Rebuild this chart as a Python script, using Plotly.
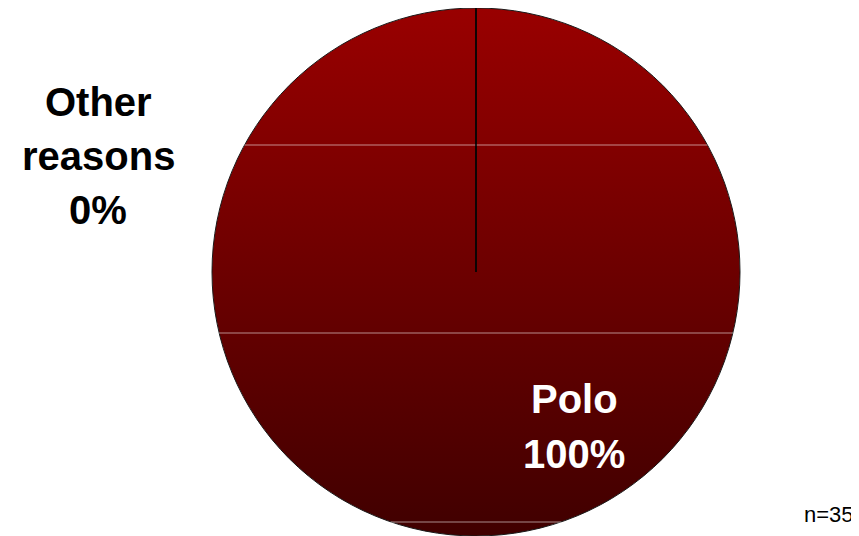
import numpy as np
import plotly.graph_objects as go

# ---- data ----
labels = ["Other reasons", "Polo"]
values = [0, 100]
label_lines = [["Other", "reasons"], ["Polo"]]
n_text = "n=35"

# page body has an 8px margin, so the figure is 8px smaller than the window
W, H = 851, 528
CX, CY_TOP, R = 468, 264, 264            # pie geometry in figure pixels
CY = H - CY_TOP                          # y-up coordinate

FONT = "Liberation Sans, Arial, sans-serif"

fig = go.Figure()

# gradient background disc (styling of the pie area)
t = np.linspace(0, 2 * np.pi, 361)
fig.add_trace(go.Scatter(
    x=CX + R * np.cos(t), y=CY + R * np.sin(t),
    mode="lines", fill="toself",
    line=dict(width=0, color="rgba(0,0,0,0)"),
    fillgradient=dict(type="vertical",
                      colorscale=[[0, "#400000"], [1, "#990000"]]),
    hoverinfo="skip", showlegend=False,
))

# faint horizontal banding lines of the gradient
for band_top in [137, 325, 514]:
    dy = abs(band_top - CY_TOP)
    if dy < R:
        half = np.sqrt(R ** 2 - dy ** 2)
        fig.add_shape(type="line", x0=CX - half, x1=CX + half,
                      y0=H - band_top, y1=H - band_top,
                      line=dict(color="rgba(255,255,255,0.55)", width=1),
                      layer="above")

# the pie itself (transparent fill, outline only)
fig.add_trace(go.Pie(
    labels=labels, values=values, sort=False, direction="clockwise",
    rotation=0, textinfo="none", hoverinfo="label+percent",
    marker=dict(colors=["rgba(0,0,0,0)", "rgba(0,0,0,0)"],
                line=dict(color="#1a1a1a", width=1)),
    domain=dict(x=[(CX - R) / W, (CX + R) / W], y=[0, 1]),
    showlegend=False,
))

total = sum(values)
pcts = [f"{round(v / total * 100)}%" for v in values]

# label for "Other reasons" (outside, left)
other_lines = label_lines[0] + [pcts[0]]
other_y = [94, 148, 202]
for txt, yy in zip(other_lines, other_y):
    fig.add_annotation(x=90, y=H - yy, text=f"<b>{txt}</b>", showarrow=False,
                       xanchor="center", yanchor="middle",
                       font=dict(family=FONT, size=40, color="black"))

# label for "Polo" (inside, white)
polo_lines = label_lines[1] + [pcts[1]]
polo_y = [391, 446]
for txt, yy in zip(polo_lines, polo_y):
    fig.add_annotation(x=566, y=H - yy, text=f"<b>{txt}</b>", showarrow=False,
                       xanchor="center", yanchor="middle",
                       font=dict(family=FONT, size=40, color="white"))

fig.add_annotation(x=848, y=H - 506, text=n_text, showarrow=False,
                   xanchor="right", yanchor="middle",
                   font=dict(family=FONT, size=22, color="black"))

# boundary of the 0% slice
fig.add_shape(type="line", x0=CX, y0=CY, x1=CX, y1=CY + R,
              line=dict(color="black", width=1.5), layer="above")

fig.update_layout(
    width=W, height=H, margin=dict(l=0, r=0, t=0, b=0),
    paper_bgcolor="white", plot_bgcolor="white",
    xaxis=dict(range=[0, W], visible=False, fixedrange=True),
    yaxis=dict(range=[0, H], visible=False, fixedrange=True),
)

fig.write_html("out.html")
